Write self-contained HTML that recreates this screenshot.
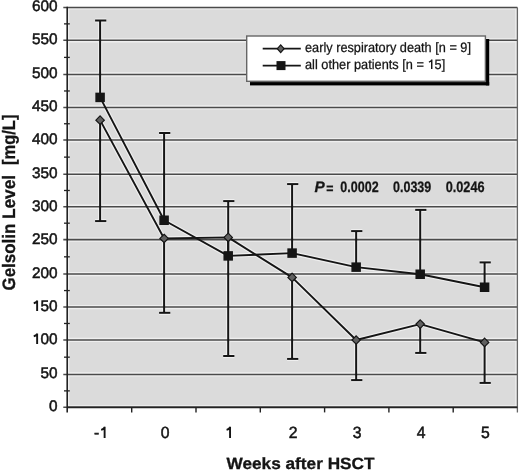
<!DOCTYPE html><html><head><meta charset="utf-8"><style>html,body{margin:0;padding:0;background:#fff;}svg{display:block;will-change:transform;text-rendering:geometricPrecision;}text{font-family:"Liberation Sans",sans-serif;}</style></head><body>
<svg width="520" height="475" viewBox="0 0 520 475">
<rect x="67.2" y="7.44" width="450.2" height="399.86" fill="#dbdbdb"/>
<line x1="67.20" y1="40.30" x2="517.40" y2="40.30" stroke="#efefef" stroke-width="4.3"/>
<line x1="67.20" y1="74.50" x2="517.40" y2="74.50" stroke="#efefef" stroke-width="4.3"/>
<line x1="67.20" y1="107.44" x2="517.40" y2="107.44" stroke="#efefef" stroke-width="4.3"/>
<line x1="67.20" y1="140.06" x2="517.40" y2="140.06" stroke="#efefef" stroke-width="4.3"/>
<line x1="67.20" y1="174.20" x2="517.40" y2="174.20" stroke="#efefef" stroke-width="4.3"/>
<line x1="67.20" y1="206.76" x2="517.40" y2="206.76" stroke="#efefef" stroke-width="4.3"/>
<line x1="67.20" y1="239.60" x2="517.40" y2="239.60" stroke="#efefef" stroke-width="4.3"/>
<line x1="67.20" y1="274.06" x2="517.40" y2="274.06" stroke="#efefef" stroke-width="4.3"/>
<line x1="67.20" y1="307.06" x2="517.40" y2="307.06" stroke="#efefef" stroke-width="4.3"/>
<line x1="67.20" y1="339.90" x2="517.40" y2="339.90" stroke="#efefef" stroke-width="4.3"/>
<line x1="67.20" y1="374.44" x2="517.40" y2="374.44" stroke="#efefef" stroke-width="4.3"/>
<rect x="67.2" y="405.20" width="450.2" height="1.4" fill="#efefef"/>
<rect x="67.2" y="8.14" width="450.2" height="1.4" fill="#efefef"/>
<rect x="67.90" y="7.44" width="1.4" height="399.86" fill="#efefef"/>
<rect x="515.30" y="7.44" width="1.4" height="399.86" fill="#efefef"/>
<line x1="100.10" y1="97.40" x2="100.10" y2="20.50" stroke="#efefef" stroke-width="4.2"/>
<line x1="95.10" y1="20.50" x2="106.30" y2="20.50" stroke="#efefef" stroke-width="4.2"/>
<line x1="100.10" y1="120.15" x2="100.10" y2="221.10" stroke="#efefef" stroke-width="4.2"/>
<line x1="95.10" y1="221.10" x2="106.30" y2="221.10" stroke="#efefef" stroke-width="4.2"/>
<line x1="164.10" y1="220.25" x2="164.10" y2="133.00" stroke="#efefef" stroke-width="4.2"/>
<line x1="159.10" y1="133.00" x2="170.30" y2="133.00" stroke="#efefef" stroke-width="4.2"/>
<line x1="164.10" y1="238.45" x2="164.10" y2="312.80" stroke="#efefef" stroke-width="4.2"/>
<line x1="159.10" y1="312.80" x2="170.30" y2="312.80" stroke="#efefef" stroke-width="4.2"/>
<line x1="228.20" y1="255.90" x2="228.20" y2="201.10" stroke="#efefef" stroke-width="4.2"/>
<line x1="223.20" y1="201.10" x2="234.40" y2="201.10" stroke="#efefef" stroke-width="4.2"/>
<line x1="228.20" y1="237.40" x2="228.20" y2="356.00" stroke="#efefef" stroke-width="4.2"/>
<line x1="223.20" y1="356.00" x2="234.40" y2="356.00" stroke="#efefef" stroke-width="4.2"/>
<line x1="292.10" y1="253.10" x2="292.10" y2="184.10" stroke="#efefef" stroke-width="4.2"/>
<line x1="287.10" y1="184.10" x2="298.30" y2="184.10" stroke="#efefef" stroke-width="4.2"/>
<line x1="292.10" y1="277.40" x2="292.10" y2="358.90" stroke="#efefef" stroke-width="4.2"/>
<line x1="287.10" y1="358.90" x2="298.30" y2="358.90" stroke="#efefef" stroke-width="4.2"/>
<line x1="356.15" y1="267.15" x2="356.15" y2="231.10" stroke="#efefef" stroke-width="4.2"/>
<line x1="351.15" y1="231.10" x2="362.35" y2="231.10" stroke="#efefef" stroke-width="4.2"/>
<line x1="356.15" y1="340.00" x2="356.15" y2="380.10" stroke="#efefef" stroke-width="4.2"/>
<line x1="351.15" y1="380.10" x2="362.35" y2="380.10" stroke="#efefef" stroke-width="4.2"/>
<line x1="420.20" y1="274.25" x2="420.20" y2="209.90" stroke="#efefef" stroke-width="4.2"/>
<line x1="415.20" y1="209.90" x2="426.40" y2="209.90" stroke="#efefef" stroke-width="4.2"/>
<line x1="420.20" y1="324.10" x2="420.20" y2="352.90" stroke="#efefef" stroke-width="4.2"/>
<line x1="415.20" y1="352.90" x2="426.40" y2="352.90" stroke="#efefef" stroke-width="4.2"/>
<line x1="484.60" y1="287.25" x2="484.60" y2="262.40" stroke="#efefef" stroke-width="4.2"/>
<line x1="479.60" y1="262.40" x2="490.80" y2="262.40" stroke="#efefef" stroke-width="4.2"/>
<line x1="484.60" y1="342.40" x2="484.60" y2="382.90" stroke="#efefef" stroke-width="4.2"/>
<line x1="479.60" y1="382.90" x2="490.80" y2="382.90" stroke="#efefef" stroke-width="4.2"/>
<polyline points="100.10,120.15 164.10,238.45 228.20,237.40 292.10,277.40 356.15,340.00 420.20,324.10 484.60,342.40" fill="none" stroke="#efefef" stroke-width="4.2" stroke-linejoin="round"/>
<polyline points="100.10,97.40 164.10,220.25 228.20,255.90 292.10,253.10 356.15,267.15 420.20,274.25 484.60,287.25" fill="none" stroke="#efefef" stroke-width="4.2" stroke-linejoin="round"/>
<line x1="63.30" y1="7.44" x2="517.40" y2="7.44" stroke="#4a4a4a" stroke-width="1.55"/>
<line x1="63.30" y1="40.30" x2="517.40" y2="40.30" stroke="#4a4a4a" stroke-width="1.55"/>
<line x1="63.30" y1="74.50" x2="517.40" y2="74.50" stroke="#4a4a4a" stroke-width="1.55"/>
<line x1="63.30" y1="107.44" x2="517.40" y2="107.44" stroke="#4a4a4a" stroke-width="1.55"/>
<line x1="63.30" y1="140.06" x2="517.40" y2="140.06" stroke="#4a4a4a" stroke-width="1.55"/>
<line x1="63.30" y1="174.20" x2="517.40" y2="174.20" stroke="#4a4a4a" stroke-width="1.55"/>
<line x1="63.30" y1="206.76" x2="517.40" y2="206.76" stroke="#4a4a4a" stroke-width="1.55"/>
<line x1="63.30" y1="239.60" x2="517.40" y2="239.60" stroke="#4a4a4a" stroke-width="1.55"/>
<line x1="63.30" y1="274.06" x2="517.40" y2="274.06" stroke="#4a4a4a" stroke-width="1.55"/>
<line x1="63.30" y1="307.06" x2="517.40" y2="307.06" stroke="#4a4a4a" stroke-width="1.55"/>
<line x1="63.30" y1="339.90" x2="517.40" y2="339.90" stroke="#4a4a4a" stroke-width="1.55"/>
<line x1="63.30" y1="374.44" x2="517.40" y2="374.44" stroke="#4a4a4a" stroke-width="1.55"/>
<line x1="63.30" y1="407.30" x2="517.40" y2="407.30" stroke="#4a4a4a" stroke-width="1.55"/>
<line x1="64.00" y1="390.87" x2="69.80" y2="390.87" stroke="#222" stroke-width="1.3"/>
<line x1="64.00" y1="357.17" x2="69.80" y2="357.17" stroke="#222" stroke-width="1.3"/>
<line x1="64.00" y1="323.48" x2="69.80" y2="323.48" stroke="#222" stroke-width="1.3"/>
<line x1="64.00" y1="290.56" x2="69.80" y2="290.56" stroke="#222" stroke-width="1.3"/>
<line x1="64.00" y1="256.83" x2="69.80" y2="256.83" stroke="#222" stroke-width="1.3"/>
<line x1="64.00" y1="223.18" x2="69.80" y2="223.18" stroke="#222" stroke-width="1.3"/>
<line x1="64.00" y1="190.48" x2="69.80" y2="190.48" stroke="#222" stroke-width="1.3"/>
<line x1="64.00" y1="157.13" x2="69.80" y2="157.13" stroke="#222" stroke-width="1.3"/>
<line x1="64.00" y1="123.75" x2="69.80" y2="123.75" stroke="#222" stroke-width="1.3"/>
<line x1="64.00" y1="90.97" x2="69.80" y2="90.97" stroke="#222" stroke-width="1.3"/>
<line x1="64.00" y1="57.40" x2="69.80" y2="57.40" stroke="#222" stroke-width="1.3"/>
<line x1="64.00" y1="23.87" x2="69.80" y2="23.87" stroke="#222" stroke-width="1.3"/>
<line x1="517.40" y1="7.44" x2="517.40" y2="412.40" stroke="#666" stroke-width="1.3"/>
<line x1="67.20" y1="6.84" x2="67.20" y2="412.40" stroke="#222" stroke-width="1.6"/>
<line x1="67.20" y1="407.30" x2="517.40" y2="407.30" stroke="#222" stroke-width="1.65"/>
<line x1="131.70" y1="407.30" x2="131.70" y2="412.40" stroke="#222" stroke-width="1.4"/>
<line x1="196.00" y1="407.30" x2="196.00" y2="412.40" stroke="#222" stroke-width="1.4"/>
<line x1="260.30" y1="407.30" x2="260.30" y2="412.40" stroke="#222" stroke-width="1.4"/>
<line x1="324.60" y1="407.30" x2="324.60" y2="412.40" stroke="#222" stroke-width="1.4"/>
<line x1="388.90" y1="407.30" x2="388.90" y2="412.40" stroke="#222" stroke-width="1.4"/>
<line x1="453.20" y1="407.30" x2="453.20" y2="412.40" stroke="#222" stroke-width="1.4"/>
<line x1="100.10" y1="97.40" x2="100.10" y2="20.50" stroke="#151515" stroke-width="2.0"/>
<line x1="95.10" y1="20.50" x2="106.30" y2="20.50" stroke="#151515" stroke-width="2.0"/>
<line x1="100.10" y1="120.15" x2="100.10" y2="221.10" stroke="#151515" stroke-width="2.0"/>
<line x1="95.10" y1="221.10" x2="106.30" y2="221.10" stroke="#151515" stroke-width="2.0"/>
<line x1="164.10" y1="220.25" x2="164.10" y2="133.00" stroke="#151515" stroke-width="2.0"/>
<line x1="159.10" y1="133.00" x2="170.30" y2="133.00" stroke="#151515" stroke-width="2.0"/>
<line x1="164.10" y1="238.45" x2="164.10" y2="312.80" stroke="#151515" stroke-width="2.0"/>
<line x1="159.10" y1="312.80" x2="170.30" y2="312.80" stroke="#151515" stroke-width="2.0"/>
<line x1="228.20" y1="255.90" x2="228.20" y2="201.10" stroke="#151515" stroke-width="2.0"/>
<line x1="223.20" y1="201.10" x2="234.40" y2="201.10" stroke="#151515" stroke-width="2.0"/>
<line x1="228.20" y1="237.40" x2="228.20" y2="356.00" stroke="#151515" stroke-width="2.0"/>
<line x1="223.20" y1="356.00" x2="234.40" y2="356.00" stroke="#151515" stroke-width="2.0"/>
<line x1="292.10" y1="253.10" x2="292.10" y2="184.10" stroke="#151515" stroke-width="2.0"/>
<line x1="287.10" y1="184.10" x2="298.30" y2="184.10" stroke="#151515" stroke-width="2.0"/>
<line x1="292.10" y1="277.40" x2="292.10" y2="358.90" stroke="#151515" stroke-width="2.0"/>
<line x1="287.10" y1="358.90" x2="298.30" y2="358.90" stroke="#151515" stroke-width="2.0"/>
<line x1="356.15" y1="267.15" x2="356.15" y2="231.10" stroke="#151515" stroke-width="2.0"/>
<line x1="351.15" y1="231.10" x2="362.35" y2="231.10" stroke="#151515" stroke-width="2.0"/>
<line x1="356.15" y1="340.00" x2="356.15" y2="380.10" stroke="#151515" stroke-width="2.0"/>
<line x1="351.15" y1="380.10" x2="362.35" y2="380.10" stroke="#151515" stroke-width="2.0"/>
<line x1="420.20" y1="274.25" x2="420.20" y2="209.90" stroke="#151515" stroke-width="2.0"/>
<line x1="415.20" y1="209.90" x2="426.40" y2="209.90" stroke="#151515" stroke-width="2.0"/>
<line x1="420.20" y1="324.10" x2="420.20" y2="352.90" stroke="#151515" stroke-width="2.0"/>
<line x1="415.20" y1="352.90" x2="426.40" y2="352.90" stroke="#151515" stroke-width="2.0"/>
<line x1="484.60" y1="287.25" x2="484.60" y2="262.40" stroke="#151515" stroke-width="2.0"/>
<line x1="479.60" y1="262.40" x2="490.80" y2="262.40" stroke="#151515" stroke-width="2.0"/>
<line x1="484.60" y1="342.40" x2="484.60" y2="382.90" stroke="#151515" stroke-width="2.0"/>
<line x1="479.60" y1="382.90" x2="490.80" y2="382.90" stroke="#151515" stroke-width="2.0"/>
<polyline points="100.10,120.15 164.10,238.45 228.20,237.40 292.10,277.40 356.15,340.00 420.20,324.10 484.60,342.40" fill="none" stroke="#151515" stroke-width="1.9" stroke-linejoin="round"/>
<polyline points="100.10,97.40 164.10,220.25 228.20,255.90 292.10,253.10 356.15,267.15 420.20,274.25 484.60,287.25" fill="none" stroke="#151515" stroke-width="1.9" stroke-linejoin="round"/>
<path d="M100.10 115.95 L104.30 120.15 L100.10 124.35 L95.90 120.15 Z" fill="#606060" stroke="#151515" stroke-width="1.2"/>
<rect x="95.35" y="92.65" width="9.5" height="9.5" fill="#151515"/>
<path d="M164.10 234.25 L168.30 238.45 L164.10 242.65 L159.90 238.45 Z" fill="#606060" stroke="#151515" stroke-width="1.2"/>
<rect x="159.35" y="215.50" width="9.5" height="9.5" fill="#151515"/>
<path d="M228.20 233.20 L232.40 237.40 L228.20 241.60 L224.00 237.40 Z" fill="#606060" stroke="#151515" stroke-width="1.2"/>
<rect x="223.45" y="251.15" width="9.5" height="9.5" fill="#151515"/>
<path d="M292.10 273.20 L296.30 277.40 L292.10 281.60 L287.90 277.40 Z" fill="#606060" stroke="#151515" stroke-width="1.2"/>
<rect x="287.35" y="248.35" width="9.5" height="9.5" fill="#151515"/>
<path d="M356.15 335.80 L360.35 340.00 L356.15 344.20 L351.95 340.00 Z" fill="#606060" stroke="#151515" stroke-width="1.2"/>
<rect x="351.40" y="262.40" width="9.5" height="9.5" fill="#151515"/>
<path d="M420.20 319.90 L424.40 324.10 L420.20 328.30 L416.00 324.10 Z" fill="#606060" stroke="#151515" stroke-width="1.2"/>
<rect x="415.45" y="269.50" width="9.5" height="9.5" fill="#151515"/>
<path d="M484.60 338.20 L488.80 342.40 L484.60 346.60 L480.40 342.40 Z" fill="#606060" stroke="#151515" stroke-width="1.2"/>
<rect x="479.85" y="282.50" width="9.5" height="9.5" fill="#151515"/>
<rect x="250" y="82.1" width="239.2" height="3.3" fill="#000"/>
<rect x="485.9" y="39" width="3.3" height="46.4" fill="#000"/>
<rect x="246.7" y="36.0" width="238.7" height="45.3" fill="#fff" stroke="#666" stroke-width="1.4"/>
<line x1="262.70" y1="48.60" x2="300.80" y2="48.60" stroke="#151515" stroke-width="1.6"/>
<path d="M280.70 44.80 L284.10 48.70 L280.70 52.60 L277.30 48.70 Z" fill="#606060" stroke="#151515" stroke-width="1.2"/>
<line x1="262.70" y1="65.60" x2="300.80" y2="65.60" stroke="#151515" stroke-width="1.6"/>
<rect x="276.50" y="61.10" width="9" height="9" fill="#151515"/>
<text x="305.00" y="51.90" font-size="13.6" textLength="166.00" lengthAdjust="spacingAndGlyphs" fill="#151515" stroke="#111" stroke-width="0.25">early respiratory death [n = 9]</text>
<text x="305.00" y="68.90" font-size="13.6" textLength="140.20" lengthAdjust="spacingAndGlyphs" fill="#151515" stroke="#111" stroke-width="0.25">all other patients [n =  5]</text>
<text x="314.60" y="191.80" font-size="15.3" font-weight="bold" font-style="italic" fill="#151515" stroke="#111" stroke-width="0.25">P</text>
<text x="326.30" y="193.00" font-size="14" font-weight="bold" textLength="7.20" lengthAdjust="spacingAndGlyphs" fill="#151515" stroke="#111" stroke-width="0.25">=</text>
<text x="340.30" y="191.80" font-size="15.2" font-weight="bold" textLength="38.30" lengthAdjust="spacingAndGlyphs" fill="#151515" stroke="#111" stroke-width="0.25">0.0002</text>
<text x="393.00" y="191.80" font-size="15.2" font-weight="bold" textLength="38.30" lengthAdjust="spacingAndGlyphs" fill="#151515" stroke="#111" stroke-width="0.25">0.0339</text>
<text x="445.70" y="191.80" font-size="15.2" font-weight="bold" textLength="38.90" lengthAdjust="spacingAndGlyphs" fill="#151515" stroke="#111" stroke-width="0.25">0.0246</text>
<text x="57.60" y="11.00" font-size="15.3" text-anchor="end" textLength="25.60" lengthAdjust="spacingAndGlyphs" fill="#151515" stroke="#111" stroke-width="0.5">600</text>
<text x="57.60" y="44.00" font-size="15.3" text-anchor="end" textLength="25.60" lengthAdjust="spacingAndGlyphs" fill="#151515" stroke="#111" stroke-width="0.5">550</text>
<text x="57.60" y="78.00" font-size="15.3" text-anchor="end" textLength="25.60" lengthAdjust="spacingAndGlyphs" fill="#151515" stroke="#111" stroke-width="0.5">500</text>
<text x="57.60" y="111.00" font-size="15.3" text-anchor="end" textLength="25.60" lengthAdjust="spacingAndGlyphs" fill="#151515" stroke="#111" stroke-width="0.5">450</text>
<text x="57.60" y="144.00" font-size="15.3" text-anchor="end" textLength="25.60" lengthAdjust="spacingAndGlyphs" fill="#151515" stroke="#111" stroke-width="0.5">400</text>
<text x="57.60" y="178.00" font-size="15.3" text-anchor="end" textLength="25.60" lengthAdjust="spacingAndGlyphs" fill="#151515" stroke="#111" stroke-width="0.5">350</text>
<text x="57.60" y="211.00" font-size="15.3" text-anchor="end" textLength="25.60" lengthAdjust="spacingAndGlyphs" fill="#151515" stroke="#111" stroke-width="0.5">300</text>
<text x="57.60" y="244.00" font-size="15.3" text-anchor="end" textLength="25.60" lengthAdjust="spacingAndGlyphs" fill="#151515" stroke="#111" stroke-width="0.5">250</text>
<text x="57.60" y="278.00" font-size="15.3" text-anchor="end" textLength="25.60" lengthAdjust="spacingAndGlyphs" fill="#151515" stroke="#111" stroke-width="0.5">200</text>
<text x="57.60" y="311.00" font-size="15.3" text-anchor="end" textLength="25.60" lengthAdjust="spacingAndGlyphs" fill="#151515" stroke="#111" stroke-width="0.5"> 50</text>
<path d="M37.14 311.00 V300.41 M37.44 300.71 Q36.24 302.67 33.76 303.27" fill="none" stroke="#151515" stroke-width="1.9"/>
<text x="57.60" y="344.00" font-size="15.3" text-anchor="end" textLength="25.60" lengthAdjust="spacingAndGlyphs" fill="#151515" stroke="#111" stroke-width="0.5"> 00</text>
<path d="M37.14 344.00 V333.41 M37.44 333.71 Q36.24 335.67 33.76 336.27" fill="none" stroke="#151515" stroke-width="1.9"/>
<text x="57.60" y="378.00" font-size="15.3" text-anchor="end" textLength="17.07" lengthAdjust="spacingAndGlyphs" fill="#151515" stroke="#111" stroke-width="0.5">50</text>
<text x="57.60" y="411.00" font-size="15.3" text-anchor="end" textLength="8.53" lengthAdjust="spacingAndGlyphs" fill="#151515" stroke="#111" stroke-width="0.5">0</text>
<text x="101.10" y="438.00" font-size="16.2" text-anchor="middle" textLength="14.00" lengthAdjust="spacingAndGlyphs" fill="#151515" stroke="#111" stroke-width="0.5">- </text>
<path d="M104.62 438.00 V426.78 M104.92 427.08 Q103.72 429.22 101.16 429.82" fill="none" stroke="#151515" stroke-width="1.9"/>
<text x="165.13" y="438.00" font-size="16.2" text-anchor="middle" textLength="8.76" lengthAdjust="spacingAndGlyphs" fill="#151515" stroke="#111" stroke-width="0.5">0</text>
<text x="229.16" y="438.00" font-size="16.2" text-anchor="middle" textLength="8.76" lengthAdjust="spacingAndGlyphs" fill="#151515" stroke="#111" stroke-width="0.5"> </text>
<path d="M230.06 438.00 V426.78 M230.36 427.08 Q229.16 429.22 226.59 429.82" fill="none" stroke="#151515" stroke-width="1.9"/>
<text x="293.19" y="438.00" font-size="16.2" text-anchor="middle" textLength="8.76" lengthAdjust="spacingAndGlyphs" fill="#151515" stroke="#111" stroke-width="0.5">2</text>
<text x="357.22" y="438.00" font-size="16.2" text-anchor="middle" textLength="8.76" lengthAdjust="spacingAndGlyphs" fill="#151515" stroke="#111" stroke-width="0.5">3</text>
<text x="421.25" y="438.00" font-size="16.2" text-anchor="middle" textLength="8.76" lengthAdjust="spacingAndGlyphs" fill="#151515" stroke="#111" stroke-width="0.5">4</text>
<text x="485.28" y="438.00" font-size="16.2" text-anchor="middle" textLength="8.76" lengthAdjust="spacingAndGlyphs" fill="#151515" stroke="#111" stroke-width="0.5">5</text>
<path d="M431.73 69.00 V59.61 M432.03 59.91 Q430.83 61.53 428.92 62.13" fill="none" stroke="#151515" stroke-width="1.45"/>
<text x="226.50" y="469.00" font-size="16.3" font-weight="bold" textLength="148.00" lengthAdjust="spacingAndGlyphs" fill="#151515" stroke="#111" stroke-width="0.3">Weeks after HSCT</text>
<g transform="translate(14.6,290.5) rotate(-90)"><text x="0.00" y="0.00" font-size="18" font-weight="bold" textLength="66.80" lengthAdjust="spacingAndGlyphs" fill="#151515" stroke="#111" stroke-width="0.3">Gelsolin</text><text x="71.50" y="0.00" font-size="18" font-weight="bold" textLength="44.10" lengthAdjust="spacingAndGlyphs" fill="#151515" stroke="#111" stroke-width="0.3">Level</text><text x="125.60" y="0.00" font-size="18" font-weight="bold" textLength="50.30" lengthAdjust="spacingAndGlyphs" fill="#151515" stroke="#111" stroke-width="0.3">[mg/L]</text></g>
</svg></body></html>
